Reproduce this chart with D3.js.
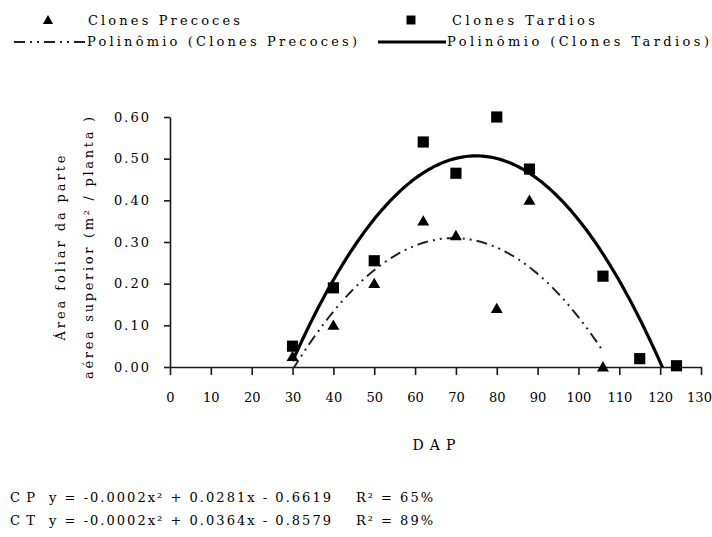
<!DOCTYPE html>
<html>
<head>
<meta charset="utf-8">
<script src="https://cdn.jsdelivr.net/npm/d3@7"></script>
<style>
  html, body { margin: 0; padding: 0; background: #ffffff; }
  svg { display: block; }
</style>
</head>
<body>
<script>
// ---------------- data ----------------
const dapPrecoces  = [30, 40, 50, 62, 70, 80, 88, 106];
const areaPrecoces = [0.025, 0.10, 0.20, 0.35, 0.315, 0.14, 0.40, 0.0];
const dapTardios   = [30, 40, 50, 62, 70, 80, 88, 106, 115, 124];
const areaTardios  = [0.05, 0.19, 0.255, 0.54, 0.465, 0.60, 0.475, 0.218, 0.02, 0.003];

const xTickValues = [0, 10, 20, 30, 40, 50, 60, 70, 80, 90, 100, 110, 120, 130];
const yTickValues = [0, 0.1, 0.2, 0.3, 0.4, 0.5, 0.6];

const legendLabels = ["Clones Precoces", "Clones Tardios",
                      "Polinômio (Clones Precoces)", "Polinômio (Clones Tardios)"];
const yTitleLines = ["Área foliar da parte", "aérea superior (m² / planta )"];
const xTitle = "DAP";
const eqCodes = ["CP", "C T"];
const eqTexts = ["y = -0.0002x² + 0.0281x - 0.6619", "y = -0.0002x² + 0.0364x - 0.8579"];
const eqR2 = ["R² = 65%", "R² = 89%"];

const FONT = "'DejaVu Serif', serif";

// ---------------- least squares quadratic trendline (as Excel does) ----------------
function polyfit2(xs, ys) {
  const n = xs.length;
  let s = [0, 0, 0, 0, 0], t = [0, 0, 0];
  for (let i = 0; i < n; i++) {
    let p = 1;
    for (let k = 0; k <= 4; k++) { s[k] += p; if (k <= 2) t[k] += p * ys[i]; p *= xs[i]; }
  }
  const M = [[s[0], s[1], s[2], t[0]], [s[1], s[2], s[3], t[1]], [s[2], s[3], s[4], t[2]]];
  for (let i = 0; i < 3; i++) {
    let piv = i;
    for (let r = i + 1; r < 3; r++) if (Math.abs(M[r][i]) > Math.abs(M[piv][i])) piv = r;
    [M[i], M[piv]] = [M[piv], M[i]];
    for (let r = 0; r < 3; r++) {
      if (r === i) continue;
      const f = M[r][i] / M[i][i];
      for (let c = i; c < 4; c++) M[r][c] -= f * M[i][c];
    }
  }
  return [M[0][3] / M[0][0], M[1][3] / M[1][1], M[2][3] / M[2][2]];
}

// ---------------- layout ----------------
const W = 712, H = 537;
const svg = d3.select("body").append("svg").attr("width", W).attr("height", H)
  .attr("font-family", FONT);
svg.append("rect").attr("width", W).attr("height", H).attr("fill", "#fff");

const x = d3.scaleLinear().domain([0, 130]).range([170, 701]);
const y = d3.scaleLinear().domain([0, 0.6]).range([367, 117]);

const axisColor = "#1a1a1a";

function txt(sel) {
  return sel.append("text").attr("font-family", FONT).attr("fill", "#000");
}

// x axis
const gx = svg.append("g").attr("transform", `translate(0,${y(0)})`)
  .call(d3.axisBottom(x).tickValues(xTickValues).tickSize(8).tickSizeOuter(0).tickPadding(18)
        .tickFormat(d3.format("d")));
gx.attr("font-family", FONT);
gx.select(".domain").attr("stroke", axisColor).attr("stroke-width", 1.6);
gx.selectAll(".tick line").attr("stroke", axisColor).attr("stroke-width", 1.6);
gx.selectAll(".tick text").attr("font-size", 13).attr("font-family", FONT).attr("fill", "#000")
  .attr("dx", (d, i, n) => i === n.length - 1 ? -2 : 0);

// y axis
const gy = svg.append("g").attr("transform", `translate(${x(0)},0)`)
  .call(d3.axisLeft(y).tickValues(yTickValues).tickSize(6).tickSizeOuter(0).tickPadding(15)
        .tickFormat(d3.format(".2f")));
gy.attr("font-family", FONT);
gy.select(".domain").attr("stroke", axisColor).attr("stroke-width", 1.6);
gy.selectAll(".tick line").attr("stroke", axisColor).attr("stroke-width", 1.6);
gy.selectAll(".tick text").attr("font-size", 13).attr("font-family", FONT)
  .attr("textLength", 35).attr("lengthAdjust", "spacing").attr("fill", "#000");

// y title
const yTitleX = [60, 88], yTitleLen = [185, 262];
yTitleLines.forEach((t, i) => {
  txt(svg)
    .attr("transform", `translate(${yTitleX[i]},248) rotate(-90)`)
    .attr("text-anchor", "middle").attr("dy", "0.35em")
    .attr("font-size", 13)
    .attr("textLength", yTitleLen[i]).attr("lengthAdjust", "spacing")
    .text(t);
});

// x title
txt(svg).attr("x", 434).attr("y", 450).attr("text-anchor", "middle")
  .attr("font-size", 14).attr("textLength", 43).attr("lengthAdjust", "spacing").text(xTitle);

// ---------------- trendlines ----------------
svg.append("clipPath").attr("id", "plotclip").append("rect")
  .attr("x", x(0)).attr("y", y(0.6) - 10).attr("width", x(130) - x(0)).attr("height", y(0) - y(0.6) + 10);

const line = d3.line().x(d => x(d[0])).y(d => y(d[1]));
function trend(xs, ys) {
  const c = polyfit2(xs, ys);
  const lo = d3.min(xs), hi = d3.max(xs);
  return d3.range(lo, hi + 0.001, 0.5).map(v => [v, c[0] + c[1] * v + c[2] * v * v]);
}

const dashPattern = "11,5,2,5,2,5";
svg.append("path").attr("clip-path", "url(#plotclip)")
  .attr("d", line(trend(dapPrecoces, areaPrecoces)))
  .attr("fill", "none").attr("stroke", "#222").attr("stroke-width", 2)
  .attr("stroke-dasharray", dashPattern);
svg.append("path").attr("clip-path", "url(#plotclip)")
  .attr("d", line(trend(dapTardios, areaTardios)))
  .attr("fill", "none").attr("stroke", "#000").attr("stroke-width", 3.2);

// ---------------- markers ----------------
const tri = d3.symbol().type(d3.symbolTriangle).size(62);
const sq = d3.symbol().type(d3.symbolSquare).size(125);

svg.append("g").selectAll("path").data(dapTardios.map((d, i) => [d, areaTardios[i]])).join("path")
  .attr("d", sq).attr("transform", d => `translate(${x(d[0])},${y(d[1])})`).attr("fill", "#000");
svg.append("g").selectAll("path").data(dapPrecoces.map((d, i) => [d, areaPrecoces[i]])).join("path")
  .attr("d", tri).attr("transform", d => `translate(${x(d[0])},${y(d[1]) + 1})`).attr("fill", "#000");

// ---------------- legend ----------------
const lg = svg.append("g");
lg.append("path").attr("d", d3.symbol().type(d3.symbolTriangle).size(45)).attr("transform", "translate(48,21)");
txt(lg).attr("x", 88).attr("y", 25).attr("font-size", 13)
  .attr("textLength", 152).attr("lengthAdjust", "spacing").text(legendLabels[0]);
lg.append("path").attr("d", d3.symbol().type(d3.symbolSquare).size(80)).attr("transform", "translate(411,20)");
txt(lg).attr("x", 452).attr("y", 25).attr("font-size", 13)
  .attr("textLength", 143).attr("lengthAdjust", "spacing").text(legendLabels[1]);

lg.append("line").attr("x1", 14).attr("x2", 85).attr("y1", 42).attr("y2", 42)
  .attr("stroke", "#222").attr("stroke-width", 2).attr("stroke-dasharray", dashPattern);
txt(lg).attr("x", 87).attr("y", 46).attr("font-size", 13)
  .attr("textLength", 270).attr("lengthAdjust", "spacing").text(legendLabels[2]);
lg.append("line").attr("x1", 378).attr("x2", 446).attr("y1", 42).attr("y2", 42)
  .attr("stroke", "#000").attr("stroke-width", 3);
txt(lg).attr("x", 447).attr("y", 46).attr("font-size", 13)
  .attr("textLength", 262).attr("lengthAdjust", "spacing").text(legendLabels[3]);

// ---------------- equations ----------------
const eqY = [502, 525];
eqCodes.forEach((c, i) => {
  txt(svg).attr("x", 10).attr("y", eqY[i]).attr("font-size", 13)
    .attr("textLength", 25).attr("lengthAdjust", "spacing").text(c);
  txt(svg).attr("x", 49).attr("y", eqY[i]).attr("font-size", 13)
    .attr("textLength", 282).attr("lengthAdjust", "spacing").text(eqTexts[i]);
  txt(svg).attr("x", 356).attr("y", eqY[i]).attr("font-size", 13)
    .attr("textLength", 77).attr("lengthAdjust", "spacing").text(eqR2[i]);
});
</script>
</body>
</html>
